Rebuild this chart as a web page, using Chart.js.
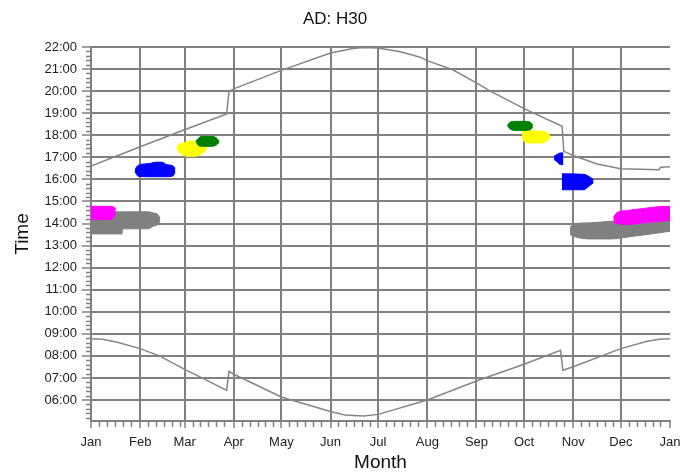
<!DOCTYPE html>
<html lang="en">
<head>
<meta charset="UTF-8">
<title>AD: H30</title>
<script src="https://cdn.jsdelivr.net/npm/chart.js"></script>
<style>
    body { margin: 0; background: #ffffff; }
    .shadow-chart { width: 699px; height: 474px; }
</style>
</head>
<body>
<div class="shadow-chart">
    <canvas id="shadowChart" width="699" height="474"></canvas>
</div>
<script>
// x axis: day of year, labelled at month starts
const monthStarts = [0, 31, 59, 90, 120, 151, 181, 212, 243, 273, 304, 334, 365];
const monthLabels = ['Jan', 'Feb', 'Mar', 'Apr', 'May', 'Jun', 'Jul', 'Aug', 'Sep', 'Oct', 'Nov', 'Dec', 'Jan'];
const hourTicks = [6, 7, 8, 9, 10, 11, 12, 13, 14, 15, 16, 17, 18, 19, 20, 21, 22];
const minorDaySteps = [5, 10, 15, 20, 25];
const minorHourStep = 0.2;

// sunset / sunrise (hours)
const sunsetDays  = [0, 31, 59, 85.5, 87, 90, 120, 151, 165, 172, 181, 195, 207, 212, 228, 243, 252, 273, 297, 298, 304, 319, 334, 358, 359, 365];
const sunsetTimes = [16.60, 17.48, 18.25, 18.96, 19.98, 20.10, 20.94, 21.73, 21.93, 21.98, 21.95, 21.78, 21.55, 21.38, 20.97, 20.37, 19.99, 19.21, 18.41, 17.27, 17.08, 16.70, 16.48, 16.44, 16.55, 16.57];
const sunriseDays  = [0, 7, 16, 31, 43.5, 59, 68.7, 85.5, 87, 90, 120, 151, 160, 172, 181, 212, 243, 273, 296, 297.5, 304, 334, 350, 358, 365];
const sunriseTimes = [8.78, 8.75, 8.63, 8.33, 7.99, 7.39, 7.05, 6.44, 7.30, 7.17, 6.14, 5.48, 5.32, 5.28, 5.35, 6.00, 6.86, 7.62, 8.25, 7.35, 7.51, 8.33, 8.65, 8.75, 8.78];

// shadow periods: day, upper edge, lower edge (hours)
const grayJanDays   = [0, 19.5, 20, 36, 39.3, 42, 43.5];
const grayJanTop    = [14.53, 14.53, 14.53, 14.53, 14.48, 14.42, 14.25];
const grayJanBottom = [13.53, 13.53, 13.76, 13.76, 13.88, 13.95, 14.10];

const magentaJanDays   = [0, 12.5, 14.5, 15.6];
const magentaJanTop    = [14.78, 14.78, 14.74, 14.66];
const magentaJanBottom = [14.18, 14.18, 14.30, 14.45];

const blueFebDays   = [27.7, 29.8, 37.2, 40.4, 44.6, 47.7, 51.9, 53];
const blueFebTop    = [16.45, 16.64, 16.72, 16.78, 16.78, 16.67, 16.60, 16.50];
const blueFebBottom = [16.35, 16.14, 16.12, 16.12, 16.12, 16.12, 16.17, 16.35];

const yellowMarDays   = [54.0, 55.5, 57.4, 61.2, 65.6, 70.6, 73.0];
const yellowMarTop    = [17.43, 17.60, 17.62, 17.73, 17.73, 17.60, 17.42];
const yellowMarBottom = [17.43, 17.25, 17.12, 17.05, 17.05, 17.20, 17.38];

const greenMarDays   = [66.2, 67.5, 70, 76, 79.5, 80.7];
const greenMarTop    = [17.72, 17.85, 17.95, 17.95, 17.85, 17.72];
const greenMarBottom = [17.72, 17.55, 17.50, 17.50, 17.58, 17.68];

const greenOctDays   = [262.5, 264, 267, 274, 277.5, 278.5];
const greenOctTop    = [18.44, 18.58, 18.63, 18.63, 18.55, 18.44];
const greenOctBottom = [18.44, 18.30, 18.22, 18.22, 18.28, 18.38];

const yellowOctDays   = [271.6, 273, 276, 284, 288, 289.4];
const yellowOctTop    = [18.18, 18.20, 18.20, 18.18, 18.10, 17.95];
const yellowOctBottom = [17.85, 17.72, 17.65, 17.65, 17.78, 17.92];

const blueOctDays   = [291.9, 293.5, 296, 297.8];
const blueOctTop    = [17.05, 17.12, 17.20, 17.20];
const blueOctBottom = [16.90, 16.82, 16.67, 16.67];

const blueNovDays   = [296.8, 310.4, 314.6, 316.7];
const blueNovTop    = [16.25, 16.23, 16.10, 15.98];
const blueNovBottom = [15.53, 15.53, 15.73, 15.85];

const grayDecDays   = [302, 305, 314.6, 327.2, 339.8, 352.4, 365];
const grayDecTop    = [13.84, 13.99, 14.03, 14.10, 14.12, 14.14, 14.15];
const grayDecBottom = [13.50, 13.40, 13.30, 13.30, 13.40, 13.52, 13.65];

const magentaDecDays   = [329.3, 331.5, 337.7, 348.3, 358.8, 365];
const magentaDecTop    = [14.29, 14.49, 14.59, 14.68, 14.77, 14.78];
const magentaDecBottom = [14.08, 13.99, 13.96, 14.03, 14.10, 14.14];

const GRID = '#808080';
const FONT = 'Liberation Sans, Arial, sans-serif';

function pts(xs, ys) {
    return xs.map((x, i) => ({ x: x, y: ys[i] }));
}

const datasets = [];

// lower edge followed by upper edge filled down to it
function addBlob(days, top, bottom, color, order) {
    const common = {
        borderColor: color, borderWidth: 1, backgroundColor: color,
        pointRadius: 0, cubicInterpolationMode: 'monotone', order: order
    };
    datasets.push(Object.assign({ data: pts(days, bottom), fill: false }, common));
    datasets.push(Object.assign({ data: pts(days, top), fill: '-1' }, common));
}

addBlob(grayJanDays, grayJanTop, grayJanBottom, '#808080', 6);
addBlob(grayDecDays, grayDecTop, grayDecBottom, '#808080', 6);
addBlob(magentaJanDays, magentaJanTop, magentaJanBottom, '#ff00ff', 5);
addBlob(magentaDecDays, magentaDecTop, magentaDecBottom, '#ff00ff', 5);
addBlob(blueFebDays, blueFebTop, blueFebBottom, '#0000ff', 4);
addBlob(blueOctDays, blueOctTop, blueOctBottom, '#0000ff', 4);
addBlob(blueNovDays, blueNovTop, blueNovBottom, '#0000ff', 4);
addBlob(yellowMarDays, yellowMarTop, yellowMarBottom, '#ffff00', 3);
addBlob(yellowOctDays, yellowOctTop, yellowOctBottom, '#ffff00', 3);
addBlob(greenMarDays, greenMarTop, greenMarBottom, '#008000', 2);
addBlob(greenOctDays, greenOctTop, greenOctBottom, '#008000', 2);

datasets.push({
    data: pts(sunsetDays, sunsetTimes),
    borderColor: '#858585', borderWidth: 1.5, pointRadius: 0, fill: false, order: 1
});
datasets.push({
    data: pts(sunriseDays, sunriseTimes),
    borderColor: '#858585', borderWidth: 1.5, pointRadius: 0, fill: false, order: 1
});

// small unlabelled ticks between the main ones
const minorTicks = {
    id: 'minorTicks',
    afterDraw(chart) {
        const ctx = chart.ctx;
        const area = chart.chartArea;
        const xs = chart.scales.x;
        const ys = chart.scales.y;
        ctx.save();
        ctx.strokeStyle = GRID;
        ctx.lineWidth = 1.5;
        ctx.beginPath();
        for (let t = 22; t > ys.min; t -= minorHourStep) {
            if (Math.abs(t - Math.round(t)) < 0.01) continue;
            const y = Math.round(ys.getPixelForValue(t)) + 0.5;
            ctx.moveTo(area.left - 5, y);
            ctx.lineTo(area.left, y);
        }
        for (let i = 0; i < monthStarts.length - 1; i++) {
            minorDaySteps.forEach(s => {
                const d = monthStarts[i] + s;
                if (d >= monthStarts[i + 1] - 1) return;
                const x = Math.round(xs.getPixelForValue(d)) + 0.5;
                ctx.moveTo(x, area.bottom);
                ctx.lineTo(x, area.bottom + 6);
            });
        }
        ctx.stroke();
        ctx.restore();
    }
};

new Chart(document.getElementById('shadowChart').getContext('2d'), {
    type: 'line',
    data: { datasets: datasets },
    plugins: [minorTicks],
    options: {
        responsive: false,
        animation: false,
        devicePixelRatio: 1,
        layout: { padding: { top: 0, right: 29, bottom: 0, left: 0 } },
        plugins: {
            legend: { display: false },
            tooltip: { enabled: false },
            title: {
                display: true,
                text: 'AD: H30',
                color: '#111',
                font: { family: FONT, size: 17, weight: 'normal' },
                padding: { top: 9, bottom: 17.6 }
            }
        },
        scales: {
            x: {
                type: 'linear',
                min: 0,
                max: 365,
                afterBuildTicks: scale => { scale.ticks = monthStarts.map(v => ({ value: v })); },
                afterFit: scale => { scale.height = 53; },
                ticks: {
                    autoSkip: false,
                    maxRotation: 0,
                    padding: 7,
                    color: '#222',
                    font: { family: FONT, size: 13 },
                    callback: (v, i) => monthLabels[i]
                },
                grid: {
                    color: ctx => (ctx.tick && ctx.tick.value === 365) ? 'rgba(0,0,0,0)' : GRID,
                    lineWidth: 2,
                    tickLength: 7,
                    tickColor: GRID,
                    tickWidth: 1.5
                },
                border: { color: GRID, width: 2 },
                title: {
                    display: true,
                    text: 'Month',
                    color: '#111',
                    font: { family: FONT, size: 19 },
                    padding: { top: 0, bottom: 0 }
                }
            },
            y: {
                type: 'linear',
                min: 5.05,
                max: 22,
                afterBuildTicks: scale => { scale.ticks = hourTicks.map(v => ({ value: v })); },
                afterFit: scale => { scale.width = 91; },
                ticks: {
                    padding: 5,
                    color: '#222',
                    font: { family: FONT, size: 13 },
                    callback: v => String(v).padStart(2, '0') + ':00'
                },
                grid: {
                    color: GRID,
                    lineWidth: 2,
                    tickLength: 9,
                    tickColor: GRID,
                    tickWidth: 1.5
                },
                border: { color: GRID, width: 2 },
                title: {
                    display: true,
                    text: 'Time',
                    color: '#111',
                    font: { family: FONT, size: 19 },
                    padding: { top: 11, bottom: 0 }
                }
            }
        }
    }
});
</script>
</body>
</html>
